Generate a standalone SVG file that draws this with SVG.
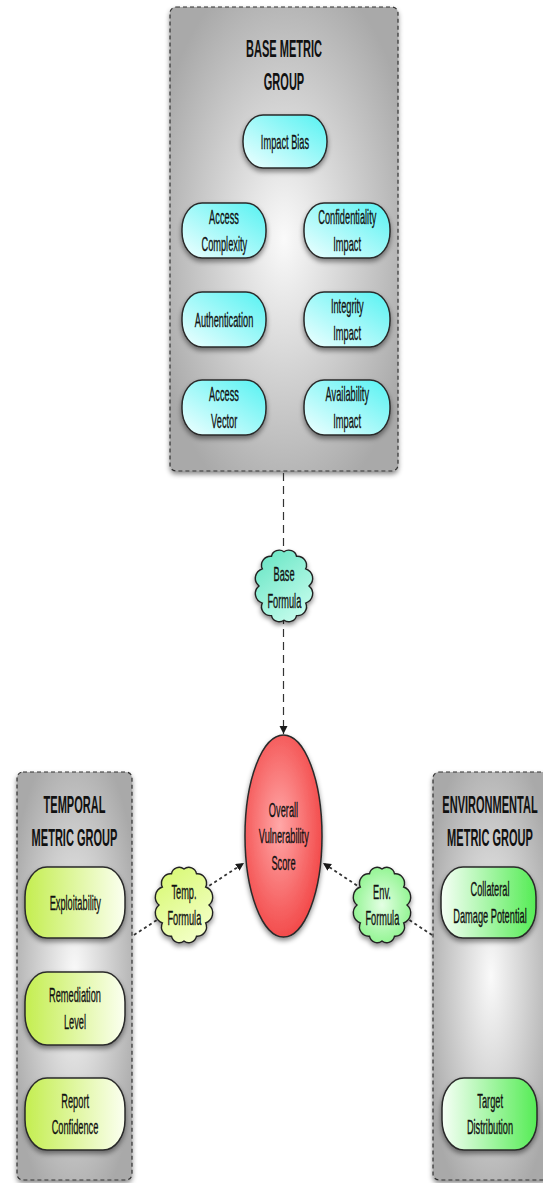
<svg xmlns="http://www.w3.org/2000/svg" xmlns:xlink="http://www.w3.org/1999/xlink" width="543" height="1183" viewBox="0 0 543 1183">
<style>
text { font-family: "Liberation Sans", Arial, sans-serif; fill: #111; text-anchor: middle; transform-box: fill-box; transform-origin: center; }
.lbl { font-size: 21px; transform: scaleX(0.44); stroke: #111; stroke-width: 0.35; }
.ttl { font-size: 24px; font-weight: bold; transform: scaleX(0.46); }
.grp { stroke: #333; stroke-width: 1.2; stroke-dasharray: 4 3; }
.pill { stroke: #2a2a2a; stroke-width: 1.5; }
.cloud { stroke: #222; stroke-width: 1.4; }
.conn { fill: none; stroke: #333; }
</style>
<defs>
  <filter id="sh" x="-20%" y="-20%" width="140%" height="140%">
    <feDropShadow dx="0" dy="3" stdDeviation="2.5" flood-color="#000" flood-opacity="0.45"/>
  </filter>
  <radialGradient id="gGrey" cx="0.5" cy="0.5" r="0.6">
    <stop offset="0" stop-color="#fafafa"/>
    <stop offset="1" stop-color="#a9a9a9"/>
  </radialGradient>
  <linearGradient id="gCyan" x1="0" y1="1" x2="1" y2="0">
    <stop offset="0" stop-color="#f0ffff"/>
    <stop offset="1" stop-color="#55f2f2"/>
  </linearGradient>
  <linearGradient id="gYel" x1="0" y1="0" x2="1" y2="0">
    <stop offset="0" stop-color="#c4ee50"/>
    <stop offset="1" stop-color="#fbfff0"/>
  </linearGradient>
  <linearGradient id="gGrn" x1="0" y1="0" x2="1" y2="0">
    <stop offset="0" stop-color="#f6fff6"/>
    <stop offset="1" stop-color="#55ec55"/>
  </linearGradient>
  <linearGradient id="gCl1" x1="0" y1="0" x2="0.6" y2="1">
    <stop offset="0" stop-color="#62e4c2"/>
    <stop offset="1" stop-color="#c0fbea"/>
  </linearGradient>
  <linearGradient id="gCl2" x1="0" y1="0" x2="0.6" y2="1">
    <stop offset="0" stop-color="#d6f86c"/>
    <stop offset="1" stop-color="#f2ffc4"/>
  </linearGradient>
  <radialGradient id="gCl3" cx="0.5" cy="0.5" r="0.6">
    <stop offset="0" stop-color="#e4ffe4"/>
    <stop offset="1" stop-color="#86f386"/>
  </radialGradient>
  <radialGradient id="gRed" cx="0.45" cy="0.45" r="0.6">
    <stop offset="0" stop-color="#ffa8a8"/>
    <stop offset="1" stop-color="#f24444"/>
  </radialGradient>
  <path id="cloud" d="M30,5 A7.8,7.8 0 0 1 42.5,9.8 A9.3,9.3 0 0 1 51.65,23 A10.6,10.6 0 0 1 55,41 A10.6,10.6 0 0 1 51.65,59 A9.3,9.3 0 0 1 42.5,72.2 A7.8,7.8 0 0 1 30,77 A7.8,7.8 0 0 1 17.5,72.2 A9.3,9.3 0 0 1 8.35,59 A10.6,10.6 0 0 1 5,41 A10.6,10.6 0 0 1 8.35,23 A9.3,9.3 0 0 1 17.5,9.8 A7.8,7.8 0 0 1 30,5 Z"/>
  <marker id="arr" markerUnits="userSpaceOnUse" markerWidth="9" markerHeight="9" refX="8" refY="4" orient="auto">
    <path d="M0,0 L8,4 L0,8 Z" fill="#1a1a1a"/>
  </marker>
</defs>

<g id="base-group">
  <rect x="170" y="7" width="228" height="464" rx="6" fill="url(#gGrey)" class="grp" filter="url(#sh)"/>
  <text class="ttl" x="284" y="57">BASE METRIC</text>
  <text class="ttl" x="284" y="90">GROUP</text>
</g>
<g id="impact-bias">
  <rect x="243" y="115" width="84" height="53" rx="20" ry="26" fill="url(#gCyan)" class="pill" filter="url(#sh)"/>
  <text class="lbl" x="285" y="149">Impact Bias</text>
</g>
<g id="access-complexity">
  <rect x="182" y="203" width="84" height="55" rx="20" ry="26" fill="url(#gCyan)" class="pill" filter="url(#sh)"/>
  <text class="lbl" x="224" y="224.5">Access</text>
  <text class="lbl" x="224" y="251">Complexity</text>
</g>
<g id="confidentiality-impact">
  <rect x="304" y="203" width="86" height="55" rx="20" ry="26" fill="url(#gCyan)" class="pill" filter="url(#sh)"/>
  <text class="lbl" x="347" y="224.5">Confidentiality</text>
  <text class="lbl" x="347" y="251">Impact</text>
</g>
<g id="authentication">
  <rect x="182" y="292" width="84" height="55" rx="20" ry="26" fill="url(#gCyan)" class="pill" filter="url(#sh)"/>
  <text class="lbl" x="224" y="327">Authentication</text>
</g>
<g id="integrity-impact">
  <rect x="304" y="292" width="86" height="55" rx="20" ry="26" fill="url(#gCyan)" class="pill" filter="url(#sh)"/>
  <text class="lbl" x="347" y="313.5">Integrity</text>
  <text class="lbl" x="347" y="340">Impact</text>
</g>
<g id="access-vector">
  <rect x="182" y="380" width="84" height="55" rx="20" ry="26" fill="url(#gCyan)" class="pill" filter="url(#sh)"/>
  <text class="lbl" x="224" y="401.5">Access</text>
  <text class="lbl" x="224" y="428">Vector</text>
</g>
<g id="availability-impact">
  <rect x="304" y="380" width="86" height="55" rx="20" ry="26" fill="url(#gCyan)" class="pill" filter="url(#sh)"/>
  <text class="lbl" x="347" y="401.5">Availability</text>
  <text class="lbl" x="347" y="428">Impact</text>
</g>

<g id="temporal-group">
  <rect x="17" y="772" width="115" height="408" rx="6" fill="url(#gGrey)" class="grp" filter="url(#sh)"/>
  <text class="ttl" x="74.5" y="813">TEMPORAL</text>
  <text class="ttl" x="74.5" y="846">METRIC GROUP</text>
</g>
<g id="exploitability">
  <rect x="25" y="867" width="100" height="71" rx="22" ry="30" fill="url(#gYel)" class="pill" filter="url(#sh)"/>
  <text class="lbl" x="75" y="910">Exploitability</text>
</g>
<g id="remediation-level">
  <rect x="25" y="972" width="100" height="73" rx="22" ry="30" fill="url(#gYel)" class="pill" filter="url(#sh)"/>
  <text class="lbl" x="75" y="1002.5">Remediation</text>
  <text class="lbl" x="75" y="1029">Level</text>
</g>
<g id="report-confidence">
  <rect x="25" y="1078" width="100" height="72" rx="22" ry="30" fill="url(#gYel)" class="pill" filter="url(#sh)"/>
  <text class="lbl" x="75" y="1108">Report</text>
  <text class="lbl" x="75" y="1134.5">Confidence</text>
</g>

<g id="environmental-group">
  <rect x="433" y="772" width="116" height="408" rx="6" fill="url(#gGrey)" class="grp" filter="url(#sh)"/>
  <text class="ttl" x="490" y="813">ENVIRONMENTAL</text>
  <text class="ttl" x="490" y="846">METRIC GROUP</text>
</g>
<g id="collateral-damage-potential">
  <rect x="441" y="867" width="95" height="71" rx="22" ry="30" fill="url(#gGrn)" class="pill" filter="url(#sh)"/>
  <text class="lbl" x="490" y="896.5">Collateral</text>
  <text class="lbl" x="490" y="923">Damage Potential</text>
</g>
<g id="target-distribution">
  <rect x="442" y="1078" width="95" height="72" rx="22" ry="30" fill="url(#gGrn)" class="pill" filter="url(#sh)"/>
  <text class="lbl" x="490" y="1108">Target</text>
  <text class="lbl" x="490" y="1134.5">Distribution</text>
</g>

<g id="connectors">
  <line class="conn" x1="283.5" y1="473" x2="283.5" y2="734" stroke-width="1.2" stroke-dasharray="8 5" marker-end="url(#arr)"/>
  <line class="conn" x1="134" y1="935" x2="244" y2="863" stroke-width="1.8" stroke-dasharray="3 3" marker-end="url(#arr)"/>
  <line class="conn" x1="432" y1="935" x2="323" y2="863" stroke-width="1.8" stroke-dasharray="3 3" marker-end="url(#arr)"/>
</g>

<g id="base-formula">
  <use xlink:href="#cloud" href="#cloud" transform="translate(254,547) scale(1,0.95)" fill="url(#gCl1)" class="cloud" filter="url(#sh)"/>
  <text class="lbl" x="284" y="581">Base</text>
  <text class="lbl" x="284" y="608">Formula</text>
</g>
<g id="temp-formula">
  <use xlink:href="#cloud" href="#cloud" transform="translate(154,864)" fill="url(#gCl2)" class="cloud" filter="url(#sh)"/>
  <text class="lbl" x="184" y="899">Temp.</text>
  <text class="lbl" x="184" y="925">Formula</text>
</g>
<g id="env-formula">
  <use xlink:href="#cloud" href="#cloud" transform="translate(352,864)" fill="url(#gCl3)" class="cloud" filter="url(#sh)"/>
  <text class="lbl" x="382" y="899">Env.</text>
  <text class="lbl" x="382" y="925">Formula</text>
</g>

<g id="overall-score">
  <ellipse cx="283.5" cy="836" rx="38.5" ry="101" fill="url(#gRed)" stroke="#2a2a2a" stroke-width="1.5" filter="url(#sh)"/>
  <text class="lbl" x="283.5" y="817">Overall</text>
  <text class="lbl" x="283.5" y="843.5">Vulnerability</text>
  <text class="lbl" x="283.5" y="870">Score</text>
</g>
</svg>
